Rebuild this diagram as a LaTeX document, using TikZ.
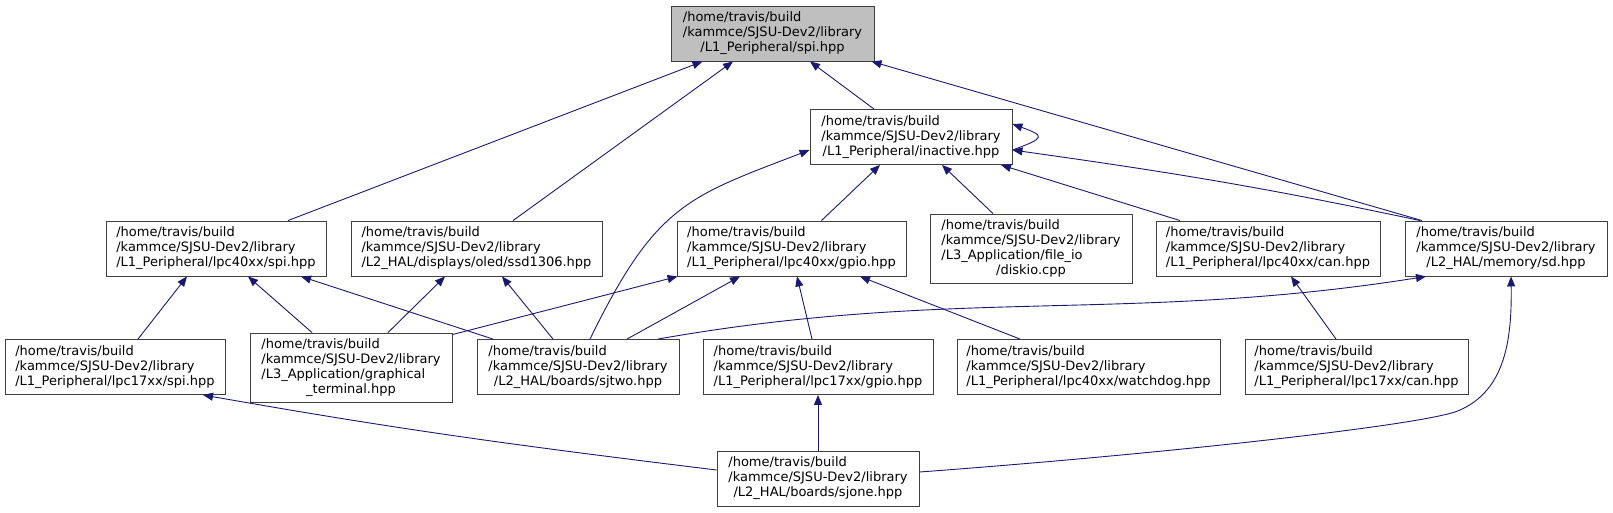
\documentclass[tikz,border=0pt]{standalone}
\usepackage{fontspec}
\setmainfont{DejaVu Sans}
\usetikzlibrary{arrows.meta}
\definecolor{edgeblue}{HTML}{191970}
\definecolor{boxline}{HTML}{404040}
\definecolor{rootfill}{HTML}{BFBFBF}
\newcommand{\fpath}[2]{\begin{tabular}{@{}l@{}}#1\\\multicolumn{1}{@{}c@{}}{#2}\end{tabular}}

\begin{document}
\begin{tikzpicture}[
  x=1pt, y=1pt,
  font=\fontsize{13}{15}\selectfont,
  >={Triangle[length=10pt,width=8pt]},
  file/.style={rectangle, draw=boxline, fill=white, line width=0.9pt,
               inner sep=0pt, minimum width=202pt, minimum height=55pt},
  root/.style={file, fill=rootfill, minimum width=203pt},
  tall/.style={file, minimum height=69pt},
  edge/.style={->, draw=edgeblue, line width=0.9pt},
]
\useasboundingbox (0,-512) rectangle (1613,0);

\node[root] (spi) at (772.5,-33.5)
  {\fpath{/home/travis/build\\/kammce/SJSU-Dev2/library}{/L1\_Peripheral/spi.hpp}};
\node[file] (inac) at (911,-137)
  {\fpath{/home/travis/build\\/kammce/SJSU-Dev2/library}{/L1\_Peripheral/inactive.hpp}};

\node[file, minimum width=220pt] (lspi) at (216,-248.5)
  {\fpath{/home/travis/build\\/kammce/SJSU-Dev2/library}{/L1\_Peripheral/lpc40xx/spi.hpp}};
\node[file, minimum width=251pt] (ssd) at (476.5,-248.5)
  {\fpath{/home/travis/build\\/kammce/SJSU-Dev2/library}{/L2\_HAL/displays/oled/ssd1306.hpp}};
\node[file, minimum width=229pt] (lgpio) at (791.5,-248.5)
  {\fpath{/home/travis/build\\/kammce/SJSU-Dev2/library}{/L1\_Peripheral/lpc40xx/gpio.hpp}};
\node[tall] (disk) at (1031,-248.5)
  {\fpath{/home/travis/build\\/kammce/SJSU-Dev2/library\\/L3\_Application/file\_io}{/diskio.cpp}};
\node[file, minimum width=224pt] (lcan) at (1268,-248.5)
  {\fpath{/home/travis/build\\/kammce/SJSU-Dev2/library}{/L1\_Peripheral/lpc40xx/can.hpp}};
\node[file] (sd) at (1506,-248.5)
  {\fpath{/home/travis/build\\/kammce/SJSU-Dev2/library}{/L2\_HAL/memory/sd.hpp}};

\node[file, minimum width=220pt] (kspi) at (115,-367)
  {\fpath{/home/travis/build\\/kammce/SJSU-Dev2/library}{/L1\_Peripheral/lpc17xx/spi.hpp}};
\node[tall] (term) at (351,-367.5)
  {\fpath{/home/travis/build\\/kammce/SJSU-Dev2/library\\/L3\_Application/graphical}{\_terminal.hpp}};
\node[file] (sjtwo) at (578,-367)
  {\fpath{/home/travis/build\\/kammce/SJSU-Dev2/library}{/L2\_HAL/boards/sjtwo.hpp}};
\node[file, minimum width=230pt] (kgpio) at (818,-367)
  {\fpath{/home/travis/build\\/kammce/SJSU-Dev2/library}{/L1\_Peripheral/lpc17xx/gpio.hpp}};
\node[file, minimum width=263pt] (wdog) at (1088.5,-367)
  {\fpath{/home/travis/build\\/kammce/SJSU-Dev2/library}{/L1\_Peripheral/lpc40xx/watchdog.hpp}};
\node[file, minimum width=223pt] (kcan) at (1356.5,-367)
  {\fpath{/home/travis/build\\/kammce/SJSU-Dev2/library}{/L1\_Peripheral/lpc17xx/can.hpp}};

\node[file] (sjone) at (818,-478.5)
  {\fpath{/home/travis/build\\/kammce/SJSU-Dev2/library}{/L2\_HAL/boards/sjone.hpp}};

\draw[edge] ([xshift=72pt]lspi.north) -- ([xshift=-70pt]spi.south);
\draw[edge] ([xshift=36.5pt]ssd.north) -- ([xshift=-39.5pt]spi.south);
\draw[edge] ([xshift=-37pt]inac.north) -- ([xshift=37.5pt]spi.south);
\draw[edge] ([xshift=-84pt]sd.north) -- ([xshift=99pt]spi.south);

\draw[edge] ([yshift=-13pt]inac.east) .. controls +(20:35pt) and +(-20:35pt)
  .. ([yshift=13pt]inac.east);
\draw[edge] ([xshift=12pt]sjtwo.north) .. controls +(64:150pt) and +(201:130pt)
  .. ([yshift=-13pt]inac.west);
\draw[edge] ([xshift=30pt]lgpio.north) -- ([xshift=-31pt]inac.south);
\draw[edge] ([xshift=-38pt]disk.north) -- ([xshift=31pt]inac.south);
\draw[edge] ([xshift=-88pt]lcan.north) -- ([xshift=90pt]inac.south);
\draw[edge] ([xshift=-86pt]sd.north) to[out=168,in=-8] ([yshift=-13pt]inac.east);

\draw[edge] ([xshift=23pt]kspi.north) -- ([xshift=-29pt]lspi.south);
\draw[edge] ([xshift=-39pt]term.north) -- ([xshift=32pt]lspi.south);
\draw[edge] ([xshift=-85pt]sjtwo.north) -- ([xshift=85pt]lspi.south);
\draw[edge] ([xshift=37pt]term.north) -- ([xshift=-31.5pt]ssd.south);
\draw[edge] ([xshift=-25pt]sjtwo.north) -- ([xshift=25.5pt]ssd.south);
\draw[edge] ([yshift=-2pt]term.north east) -- ([xshift=1pt]lgpio.south west);
\draw[edge] ([xshift=49pt]sjtwo.north) -- ([xshift=-51.5pt]lgpio.south);
\draw[edge] ([xshift=-6pt]kgpio.north) -- ([xshift=5.5pt]lgpio.south);
\draw[edge] ([xshift=-68.5pt]wdog.north) -- ([xshift=68.5pt]lgpio.south);
\draw[edge] ([xshift=80pt]sjtwo.north) to[out=10,in=189] ([xshift=-80pt]sd.south);
\draw[edge] ([xshift=-20.5pt]kcan.north) -- ([xshift=23pt]lcan.south);

\draw[edge] ([yshift=8.5pt]sjone.west) to[out=173,in=-10] ([xshift=88pt]kspi.south);
\draw[edge] (sjone) -- (kgpio);
\draw[edge] ([yshift=6.5pt]sjone.east) .. controls (1150,-455) and (1430,-425)
  .. (1460,-410) .. controls (1505,-390) and (1512,-340) .. ([xshift=5pt]sd.south);
\end{tikzpicture}
\end{document}
